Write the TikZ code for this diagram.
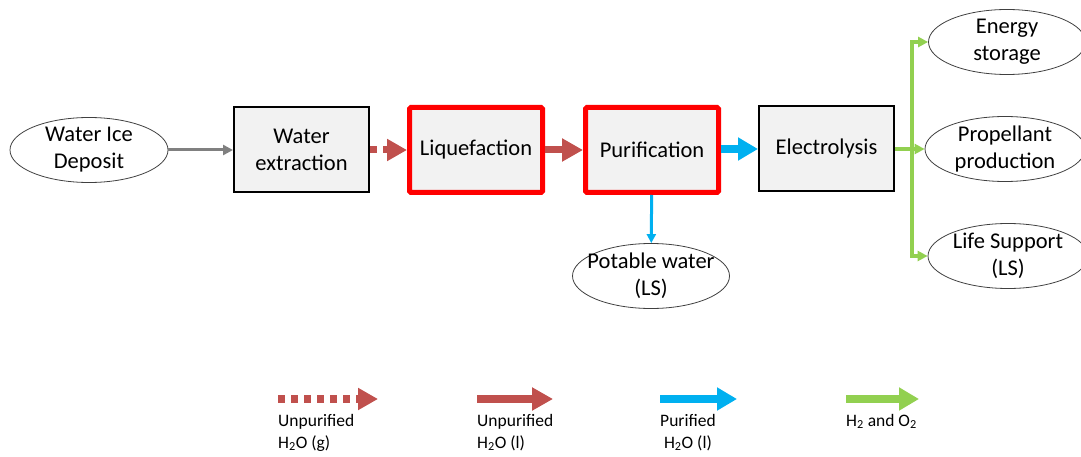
\documentclass[tikz,border=0pt]{standalone}
\usepackage{fontspec}
\setmainfont{Carlito}
\usetikzlibrary{arrows.meta,shapes.geometric}
\definecolor{flowred}{HTML}{C0504D}
\definecolor{flowblue}{HTML}{00B0F0}
\definecolor{flowgreen}{HTML}{92D050}
\definecolor{boxgray}{HTML}{F2F2F2}
\tikzset{
  procbox/.style={draw=black, line width=2pt, fill=boxgray, minimum width=135pt,
    minimum height=85pt, align=center, font=\fontsize{22.5}{27}\selectfont},
  hotbox/.style={procbox, draw=red, line width=5pt, rounded corners=1.5pt,
    minimum width=133pt, minimum height=85pt},
  endpoint/.style={ellipse, draw=black!75, line width=0.8pt, fill=white, align=center,
    inner xsep=-20pt, inner ysep=-4pt, minimum width=157pt, minimum height=65pt,
    font=\fontsize{22.5}{27}\selectfont},
  rawlink/.style={draw=gray, line width=3pt, -{Triangle[length=10pt,width=10pt]}},
  gaslink/.style={draw=flowred, line width=7pt, dash pattern=on 7pt off 6pt,
    -{Triangle[length=20pt,width=21pt]}},
  liqlink/.style={draw=flowred, line width=7pt, -{Triangle[length=21pt,width=22pt]}},
  purelink/.style={draw=flowblue, line width=8pt, -{Triangle[length=20pt,width=22pt]}},
  drinklink/.style={draw=flowblue, line width=3pt, -{Triangle[length=9pt,width=9pt]}},
  h2link/.style={draw=flowgreen, line width=3.5pt, -{Triangle[length=10pt,width=10pt]}},
  legendtxt/.style={inner sep=0pt, font=\fontsize{17.5}{22}\selectfont}
}
\begin{document}
\begin{tikzpicture}[x=1pt,y=-1pt]
\useasboundingbox (0,0) rectangle (1081,457);

% draw the process chain
\node[endpoint, minimum width=158pt] (ice) at (89,150) {Water Ice\\Deposit};
\node[procbox] (extr) at (301.5,150) {Water\\extraction};
\node[hotbox] (liq) at (476,150) {Liquefaction};
\node[hotbox] (pur) at (652,150) {Purification};
\node[procbox] (elec) at (826.5,149) {Electrolysis};

% draw the products
\node[endpoint] (potable) at (651,276) {Potable water\\(LS)};
\node[endpoint] (energy) at (1007,42) {Energy\\storage};
\node[endpoint, minimum width=160pt] (prop) at (1005,149) {Propellant\\production};
\node[endpoint, minimum width=160pt] (life) at (1008,256) {Life Support\\(LS)};
\coordinate (split) at (912,149);

% draw connectors
\draw[rawlink] (ice) -- (extr);
\draw[gaslink] (extr) -- (liq);
\draw[liqlink] (liq) -- (pur);
\draw[purelink] (pur.east |- elec) -- (elec);
\draw[drinklink] (pur) -- (potable);
\draw[h2link] (elec) -- (prop);
\draw[h2link] (split) |- (energy.west);
\draw[h2link] (split) |- (life.west);

% draw the legend
\coordinate (lgA1) at (278,399);
\coordinate (lgA2) at (378,399);
\coordinate (lgB1) at (477,399);
\coordinate (lgB2) at (553,399);
\coordinate (lgC1) at (660,399);
\coordinate (lgC2) at (737,399);
\coordinate (lgD1) at (846,399);
\coordinate (lgD2) at (919,399);
\draw[gaslink, line width=8pt, dash pattern=on 7pt off 6pt] (lgA1) -- (lgA2);
\draw[liqlink, line width=8pt] (lgB1) -- (lgB2);
\draw[purelink] (lgC1) -- (lgC2);
\draw[h2link, line width=8pt, -{Triangle[length=20pt,width=22pt]}] (lgD1) -- (lgD2);
\node[legendtxt, anchor=north west, align=left] (lgtxtA) at (278,414)
  {Unpurified\\H\textsubscript{2}O (g)};
\node[legendtxt, anchor=north west, align=left] (lgtxtB) at (477,414)
  {Unpurified\\H\textsubscript{2}O (l)};
\node[legendtxt, anchor=north west, align=center] (lgtxtC) at (660,414)
  {Purified\\H\textsubscript{2}O (l)};
\node[legendtxt, anchor=north west] (lgtxtD) at (846,414)
  {H\textsubscript{2} and O\textsubscript{2}};
\end{tikzpicture}
\end{document}
